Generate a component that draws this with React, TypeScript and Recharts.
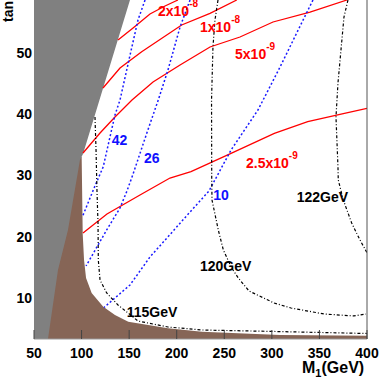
import React from 'react';
import { ComposedChart, Area, Line, XAxis, YAxis, ReferenceDot, ReferenceLine } from 'recharts';

const X_TICKS = [50, 100, 150, 200, 250, 300, 350, 400];
const Y_TICKS = [10, 20, 30, 40, 50];
const X_MIN = 50;
const X_MAX = 400;
const Y_MIN = 3.31;
const Y_MAX = 58.65;

// excluded regions
const GRAY_X = [50, 64.7, 75.2, 85.7, 98.3, 101.5, 150.9];
const GRAY_LOW = [3.31, 3.31, 14.58, 21.1, 32.53, 33.51, 58.65];
const BROWN_X = [50, 100.1, 101.2, 102.6, 104.7, 110.6, 122.8, 135.1, 149.1, 190.8, 226.6, 308.6, 400];
const BROWN_TOP = [33.02, 33.02, 20.45, 16.21, 13.27, 10.82, 8.58, 7.23, 6.14, 5.06, 4.5, 3.98, 3.85];

// red contours (solid)
const R1_X = [138.3, 154.1, 171.9, 187.7, 201.3];
const R1_Y = [52.12, 54.08, 56.36, 57.67, 58.65];
const R2_X = [122.5, 140.4, 163.2, 205.2, 235.0, 263.1];
const R2_Y = [44.28, 47.55, 50.21, 54.57, 56.48, 58.65];
const R3_X = [101.5, 119.4, 135.1, 153.0, 175.1, 203.5, 235.0, 266.5, 301.2, 340.1, 379.0];
const R3_Y = [33.67, 36.94, 39.55, 42.33, 45.26, 48.04, 50.98, 52.61, 55.06, 56.69, 58.65];
const R4_X = [101.5, 126.7, 161.4, 192.9, 215.0, 257.1, 302.6, 337.7, 369.2, 400];
const R4_Y = [20.61, 23.72, 26.82, 29.59, 30.62, 33.62, 36.89, 38.78, 39.88, 40.97];

// blue contours (dotted)
const B1_X = [166.7, 159.3, 149.8, 140.4, 135.1, 122.8, 112.3, 101.0];
const B1_Y = [58.65, 55.38, 48.86, 42.33, 39.88, 31.44, 27.63, 23.31];
const B2_X = [214.0, 203.5, 190.8, 180.6, 168.5, 154.4, 147.7, 140.4, 126.4, 104.7];
const B2_Y = [58.65, 54.24, 47.22, 42.33, 36.89, 30.36, 27.47, 24.7, 21.11, 15.23];
const B3_X = [343.2, 338.0, 308.6, 285.4, 257.1, 233.9, 215.0, 171.9, 150.9, 123.6];
const B3_Y = [58.65, 57.02, 47.71, 40.69, 34.16, 27.47, 24.21, 16.7, 12.13, 8.45];

// black Higgs-mass contours (dash-dot)
const K1_X = [114.1, 115.2, 116.2, 117.3, 117.6, 119.4, 126.4, 138.3, 148.8, 159.3, 190.8, 226.6, 302.3, 400];
const K1_Y = [39.55, 34.16, 27.47, 22.08, 16.21, 12.94, 10.82, 8.86, 7.56, 6.25, 5.27, 4.78, 4.54, 4.21];
const K2_X = [243.4, 240.2, 238.1, 236.6, 236.8, 237.1, 243.7, 249.0, 257.8, 264.7, 276.0, 302.3, 320.1, 354.8, 386.3, 398.9];
const K2_Y = [58.65, 55.38, 50.98, 42.33, 29.27, 26.0, 21.1, 17.84, 14.9, 13.27, 11.15, 9.19, 8.37, 7.39, 7.07, 7.39];
const K3_X = [380.0, 375.8, 369.5, 367.4, 369.5, 369.8, 375.1, 383.9, 392.6, 400];
const K3_Y = [58.65, 55.87, 45.1, 39.55, 31.39, 29.27, 26.0, 22.25, 19.47, 17.4];

// contour labels
const LABEL_TEXT = ['2x10', '1x10', '5x10', '2.5x10', '42', '26', '10', '122GeV', '120GeV', '115GeV'];
const LABEL_SUP = ['-8', '-8', '-9', '-9', '', '', '', '', '', ''];
const LABEL_X = [180.3, 224.5, 261.3, 272.8, 131.7, 165.6, 238.4, 326.1, 224.5, 147.4];
const LABEL_Y = [56.04, 53.48, 49.02, 31.23, 34.98, 31.96, 26.0, 25.68, 14.41, 6.9];
const LABEL_COLOR = ['#ff0000', '#ff0000', '#ff0000', '#ff0000', '#1010ff', '#1010ff', '#1010ff', '#000', '#000', '#000'];

const FONT = "'Liberation Sans', Arial, Helvetica, sans-serif";
const RED = '#ff0000';
const BLUE = '#1a1aff';

const pts = (xs: number[], ys: number[]) => xs.map((x, i) => ({ x, y: ys[i] }));
const grayData = GRAY_X.map((x, i) => ({ x, r: [GRAY_LOW[i], Y_MAX] }));
const brownData = BROWN_X.map((x, i) => ({ x, r: [Y_MIN, BROWN_TOP[i]] }));

const redLines = [pts(R1_X, R1_Y), pts(R2_X, R2_Y), pts(R3_X, R3_Y), pts(R4_X, R4_Y)];
const blueLines = [pts(B1_X, B1_Y), pts(B2_X, B2_Y), pts(B3_X, B3_Y)];
const blackLines = [pts(K1_X, K1_Y), pts(K2_X, K2_Y), pts(K3_X, K3_Y)];

const tickStyle = { fill: '#000', fontSize: 14, fontWeight: 700, fontFamily: FONT };

export default function App() {
  return (
    <div style={{ position: 'absolute', left: 0, top: 0, width: 382, height: 382, background: '#fff' }}>
      <ComposedChart width={382} height={382} margin={{ top: 0, right: 15, bottom: 0, left: 0 }}>
        <XAxis
          dataKey="x"
          type="number"
          domain={[X_MIN, X_MAX]}
          ticks={X_TICKS}
          allowDataOverflow
          height={43}
          tickSize={-9}
          tickMargin={18}
          tick={tickStyle}
          tickLine={{ stroke: '#444' }}
          axisLine={{ stroke: '#999' }}
        />
        <YAxis
          type="number"
          domain={[Y_MIN, Y_MAX]}
          ticks={Y_TICKS}
          allowDataOverflow
          width={34}
          tickSize={0}
          tickMargin={2}
          tick={tickStyle}
          tickLine={false}
          axisLine={false}
        />
        <Area data={brownData} dataKey="r" type="linear" stroke="none" fill="#866556" fillOpacity={1} isAnimationActive={false} dot={false} activeDot={false} />
        <Area data={grayData} dataKey="r" type="linear" stroke="none" fill="#808080" fillOpacity={1} isAnimationActive={false} dot={false} activeDot={false} />
        {redLines.map((d, i) => (
          <Line key={'r' + i} data={d} dataKey="y" type="linear" stroke={RED} strokeWidth={1.3} dot={false} activeDot={false} isAnimationActive={false} />
        ))}
        {blueLines.map((d, i) => (
          <Line key={'b' + i} data={d} dataKey="y" type="linear" stroke={BLUE} strokeWidth={1.5} strokeDasharray="2 2.2" dot={false} activeDot={false} isAnimationActive={false} />
        ))}
        {blackLines.map((d, i) => (
          <Line key={'k' + i} data={d} dataKey="y" type="linear" stroke="#000" strokeWidth={1.2} strokeDasharray="3 2 1 2" dot={false} activeDot={false} isAnimationActive={false} />
        ))}
        <ReferenceLine x={X_MAX} stroke="#555" strokeWidth={1} />
        {LABEL_TEXT.map((t, i) => (
          <ReferenceDot
            key={'l' + i}
            x={LABEL_X[i]}
            y={LABEL_Y[i]}
            r={0}
            shape={(p: any) => (
              <text x={p.cx} y={p.cy} fill={LABEL_COLOR[i]} fontSize={14} fontWeight={700} fontFamily={FONT}>
                {t}
                {LABEL_SUP[i] ? (
                  <tspan dy={-9} fontSize={10}>{LABEL_SUP[i]}</tspan>
                ) : null}
              </text>
            )}
          />
        ))}
      </ComposedChart>
      <svg width={382} height={382} style={{ position: 'absolute', left: 0, top: 0, pointerEvents: 'none' }}>
        <text x={13} y={22} transform="rotate(-90 13 22)" fontSize={14} fontWeight={700} fontFamily={FONT} fill="#000">
          tanβ
        </text>
        <text x={302} y={373} fontSize={16} fontWeight={700} fontFamily={FONT} fill="#000">
          M<tspan dy={4} fontSize={11}>1</tspan><tspan dy={-4}>(GeV)</tspan>
        </text>
      </svg>
    </div>
  );
}
